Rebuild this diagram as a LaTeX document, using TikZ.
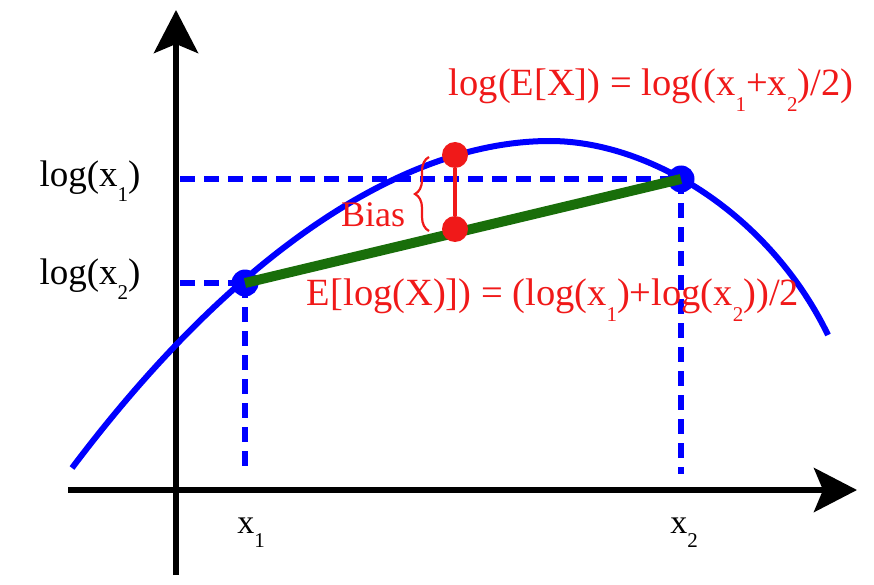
\documentclass[tikz,border=0pt]{standalone}
\usepackage{fontspec}
\setmainfont{Liberation Serif}
\usetikzlibrary{arrows.meta,decorations.pathreplacing}
\newcommand\sbs[1]{\raisebox{-0.42em}{\fontsize{21}{21}\selectfont #1}}
\begin{document}
\begin{tikzpicture}[x=1pt,y=-1pt,
  axis/.style={line width=6pt, black},
  dashline/.style={line width=6pt, blue, dash pattern=on 15pt off 9pt},
  bluedot/.style={circle, fill=blue, inner sep=0pt, minimum size=27pt},
  reddot/.style={circle, fill={rgb,255:red,240;green,25;blue,25}, inner sep=0pt, minimum size=26pt},
  lbl/.style={font=\fontsize{37}{42}\selectfont, inner sep=0pt},
  redlbl/.style={font=\fontsize{38.5}{44}\selectfont, inner sep=0pt, text={rgb,255:red,240;green,25;blue,25}}]
\useasboundingbox (0,0) rectangle (874,585);
\definecolor{myred}{RGB}{240,25,25}
\definecolor{mygreen}{RGB}{25,110,10}
% axes
\coordinate (ybot) at (176,575);
\coordinate (ytop) at (176,10);
\coordinate (xl) at (68,490);
\coordinate (xr) at (857,490);
\draw[axis, -{Stealth[length=43pt, width=44pt, inset=9pt]}] (ybot) -- (ytop);
\draw[axis, -{Stealth[length=43pt, width=44pt, inset=9pt]}] (xl) -- (xr);
% points
\coordinate (a1) at (245,283);
\coordinate (a2) at (681,179);
% dashed guides
\coordinate (y1) at (180,179);
\coordinate (y2) at (180,283);
\coordinate (b1) at (245,472);
\coordinate (b2) at (681,474);
\draw[dashline] (y1) -- (a2);
\draw[dashline] (y2) -- (a1);
\draw[dashline] (a1) -- (b1);
\draw[dashline] (a2) -- (b2);
% curve
\coordinate (c0) at (72,468);
\coordinate (cm) at (550,141);
\coordinate (c1) at (828,335);
\draw[blue, line width=6pt] (c0) .. controls (230,258) and (400,141) .. (cm)
  .. controls (650,141) and (770,215) .. (c1);
% dots and chord
\node[bluedot] (p1) at (a1) {};
\node[bluedot] (p2) at (a2) {};
\draw[mygreen, line width=10pt] (p1.center) -- (p2.center);
\node[reddot] (r1) at (455,155) {};
\node[reddot] (r2) at (455,229) {};
\draw[myred, line width=4pt] (r1) -- (r2);
% brace
\coordinate (bb) at (429,231);
\coordinate (bt) at (429,157);
\draw[myred, line width=2.2pt, decorate, decoration={brace, amplitude=14pt}] (bb) -- (bt);
% labels
\node[lbl] (l1) at (90,181) {log(x\sbs{1})};
\node[lbl] (l2) at (90,279) {log(x\sbs{2})};
\node[lbl, font=\fontsize{34}{38}\selectfont] (t1) at (251,533) {x\sbs{1}};
\node[lbl, font=\fontsize{34}{38}\selectfont] (t2) at (684,533) {x\sbs{2}};
\node[redlbl] (e1) at (651,90) {log(E[X]) = log((x\sbs{1}+x\sbs{2})/2)};
\node[redlbl] (e2) at (553,300) {E[log(X)]) = (log(x\sbs{1})+log(x\sbs{2}))/2};
\node[redlbl, font=\fontsize{36}{40}\selectfont] (bias) at (373,215) {Bias};
\end{tikzpicture}
\end{document}
